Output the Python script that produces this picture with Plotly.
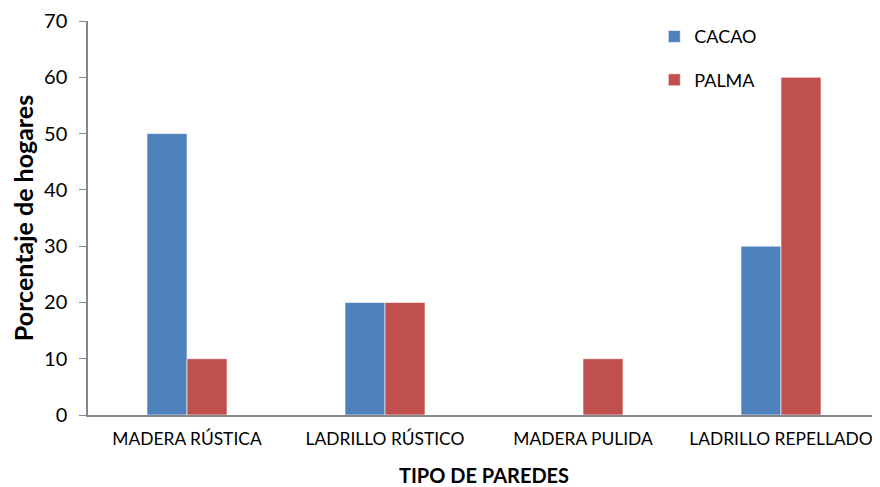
import plotly.graph_objects as go

categories = ["MADERA RÚSTICA", "LADRILLO RÚSTICO", "MADERA PULIDA", "LADRILLO REPELLADO"]
cacao = [50, 20, 0, 30]
palma = [10, 20, 10, 60]

FONT = "Lato"

fig = go.Figure()
fig.add_trace(go.Bar(x=categories, y=cacao, name="CACAO", legendgroup="a",
                     marker=dict(color="#4F81BD", line=dict(color="rgba(255,255,255,0.6)", width=1))))
fig.add_trace(go.Bar(x=categories, y=palma, name="PALMA", legendgroup="b",
                     marker=dict(color="#C0504D", line=dict(color="rgba(255,255,255,0.6)", width=1))))

fig.update_layout(
    width=872, height=479,
    margin=dict(l=80, r=0, t=13, b=72, autoexpand=False),
    paper_bgcolor="white", plot_bgcolor="white",
    barmode="group", bargap=0.596, bargroupgap=0,
    font=dict(family=FONT, size=18, color="black"),
    showlegend=True,
    legend=dict(x=0.715, y=1.007, xanchor="left", yanchor="top",
                font=dict(family=FONT, size=18), tracegroupgap=17,
                traceorder="grouped", bgcolor="rgba(0,0,0,0)", itemwidth=30),
    xaxis=dict(showline=True, linecolor="#868686", linewidth=1.5,
               ticks="outside", ticklen=7, tickcolor="rgba(0,0,0,0)",
               showgrid=False, tickfont=dict(size=17.4), automargin=False,
               title=dict(text="<b>TIPO DE PAREDES</b>", font=dict(size=20), standoff=26)),
    yaxis=dict(range=[0, 70], dtick=10, showline=True, linecolor="#868686", linewidth=1.5,
               ticks="outside", ticklen=7, tickcolor="#868686", showgrid=False,
               ticklabelstandoff=8,
               zeroline=False, tickfont=dict(size=20), automargin=False,
               title=dict(text="<b>Porcentaje de hogares</b>", font=dict(size=25), standoff=6)),
)

fig.write_html("out.html")
